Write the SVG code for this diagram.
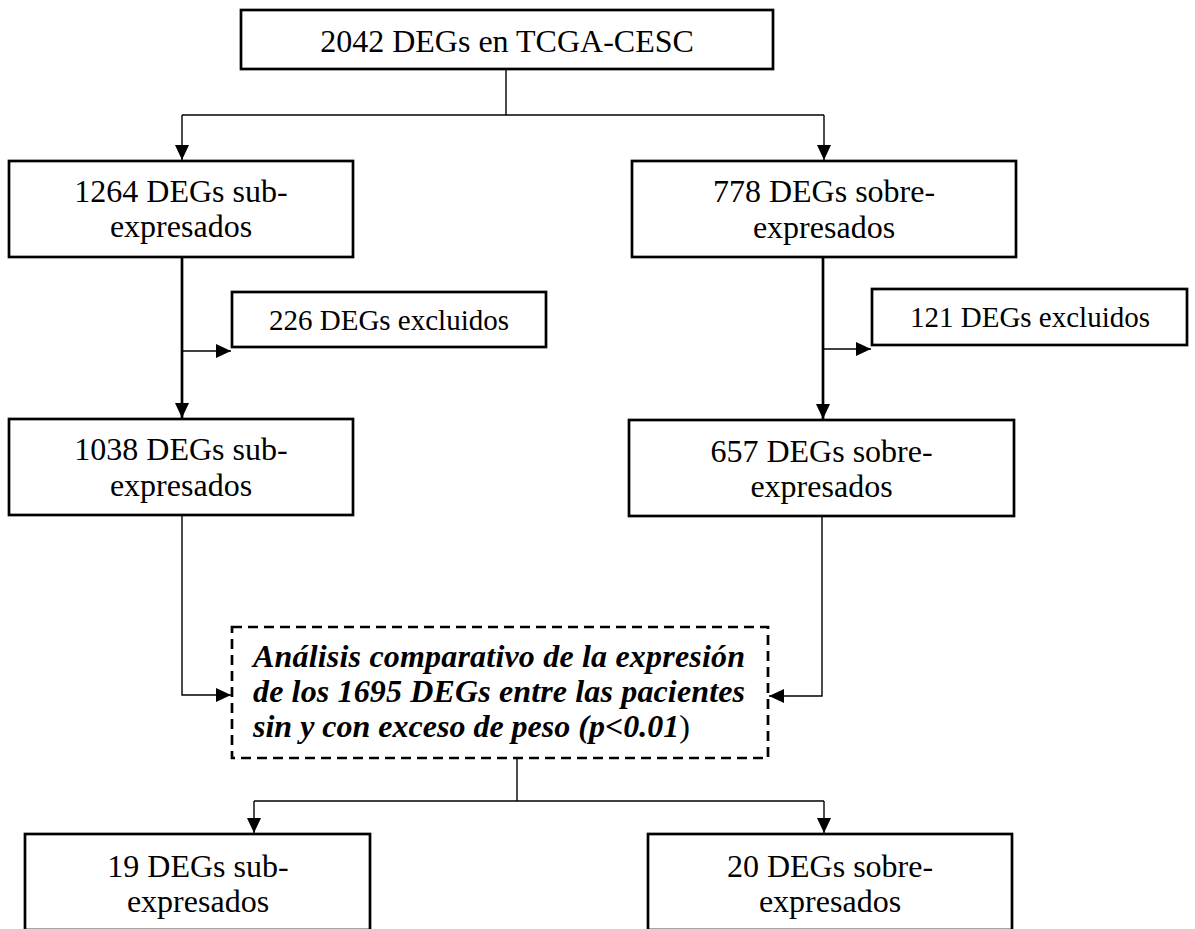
<svg xmlns="http://www.w3.org/2000/svg" width="1195" height="929" viewBox="0 0 1195 929">
<style>
  .box { fill: #ffffff; stroke: #000000; stroke-width: 2.7; }
  .dash { fill: #ffffff; stroke: #000000; stroke-width: 2.7; stroke-dasharray: 10 6; }
  .t { font-family: "Liberation Serif", "Times New Roman", serif; font-size: 32px; fill: #000000; text-anchor: middle; }
  .ts { font-family: "Liberation Serif", "Times New Roman", serif; font-size: 29px; fill: #000000; text-anchor: middle; }
  .ti { font-family: "Liberation Serif", "Times New Roman", serif; font-size: 32px; font-weight: bold; font-style: italic; fill: #000000; }
  .thin { fill: none; stroke: #000000; stroke-width: 1.4; }
  .thick { fill: none; stroke: #000000; stroke-width: 2.7; }
</style>
<defs>
  <marker id="arr" markerUnits="userSpaceOnUse" markerWidth="15" markerHeight="14" refX="15" refY="7" orient="auto" viewBox="0 0 15 14">
    <path d="M0,0 L15,7 L0,14 z" fill="#000000"/>
  </marker>
</defs>
<rect width="1195" height="929" fill="#ffffff"/>

<g id="connectors">
  <path class="thin" d="M506,69 V115"/>
  <path class="thin" d="M182,115 H824"/>
  <path class="thin" d="M182,115 V160" marker-end="url(#arr)"/>
  <path class="thin" d="M824,115 V160" marker-end="url(#arr)"/>
  <path class="thick" d="M182,257 V418" marker-end="url(#arr)"/>
  <path class="thin" d="M182,351 H231" marker-end="url(#arr)"/>
  <path class="thick" d="M823,257 V419" marker-end="url(#arr)"/>
  <path class="thin" d="M823,349 H871" marker-end="url(#arr)"/>
  <path class="thin" d="M182,515 V695 H231" marker-end="url(#arr)"/>
  <path class="thin" d="M822,516 V696 H769" marker-end="url(#arr)"/>
  <path class="thin" d="M517,758 V801"/>
  <path class="thin" d="M254,801 H824"/>
  <path class="thin" d="M254,801 V833" marker-end="url(#arr)"/>
  <path class="thin" d="M824,801 V833" marker-end="url(#arr)"/>
</g>

<g id="n_total">
  <rect class="box" x="241" y="10" width="532" height="59"/>
  <text class="t" x="507" y="52">2042 DEGs en TCGA-CESC</text>
</g>

<g id="n_sub1">
  <rect class="box" x="9" y="161" width="344" height="96"/>
  <text class="t" x="181" y="202">1264 DEGs sub-</text>
  <text class="t" x="181" y="237">expresados</text>
</g>

<g id="n_sobre1">
  <rect class="box" x="632" y="161" width="384" height="96"/>
  <text class="t" x="824" y="202">778 DEGs sobre-</text>
  <text class="t" x="824" y="238">expresados</text>
</g>

<g id="n_excl1">
  <rect class="box" x="232" y="292" width="314" height="55"/>
  <text class="ts" x="389" y="330">226 DEGs excluidos</text>
</g>

<g id="n_excl2">
  <rect class="box" x="872" y="289" width="315" height="56"/>
  <text class="ts" x="1030" y="327">121 DEGs excluidos</text>
</g>

<g id="n_sub2">
  <rect class="box" x="9" y="419" width="344" height="96"/>
  <text class="t" x="181" y="460">1038 DEGs sub-</text>
  <text class="t" x="181" y="496">expresados</text>
</g>

<g id="n_sobre2">
  <rect class="box" x="629" y="420" width="385" height="96"/>
  <text class="t" x="821.5" y="462">657 DEGs sobre-</text>
  <text class="t" x="821.5" y="497">expresados</text>
</g>

<g id="n_analisis">
  <rect class="dash" x="232" y="627" width="536" height="131"/>
  <text class="ti" x="253" y="667" textLength="492" lengthAdjust="spacing">Análisis comparativo de la expresión</text>
  <text class="ti" x="253" y="702" textLength="492" lengthAdjust="spacing">de los 1695 DEGs entre las pacientes</text>
  <text class="ti" x="253" y="737">sin y con exceso de peso (p&lt;0.01<tspan font-weight="normal" font-style="normal">)</tspan></text>
</g>

<g id="n_sub3">
  <rect class="box" x="25" y="834" width="345" height="96"/>
  <text class="t" x="198" y="877">19 DEGs sub-</text>
  <text class="t" x="198" y="912">expresados</text>
</g>

<g id="n_sobre3">
  <rect class="box" x="648" y="834" width="364" height="96"/>
  <text class="t" x="830" y="877">20 DEGs sobre-</text>
  <text class="t" x="830" y="912">expresados</text>
</g>
</svg>
